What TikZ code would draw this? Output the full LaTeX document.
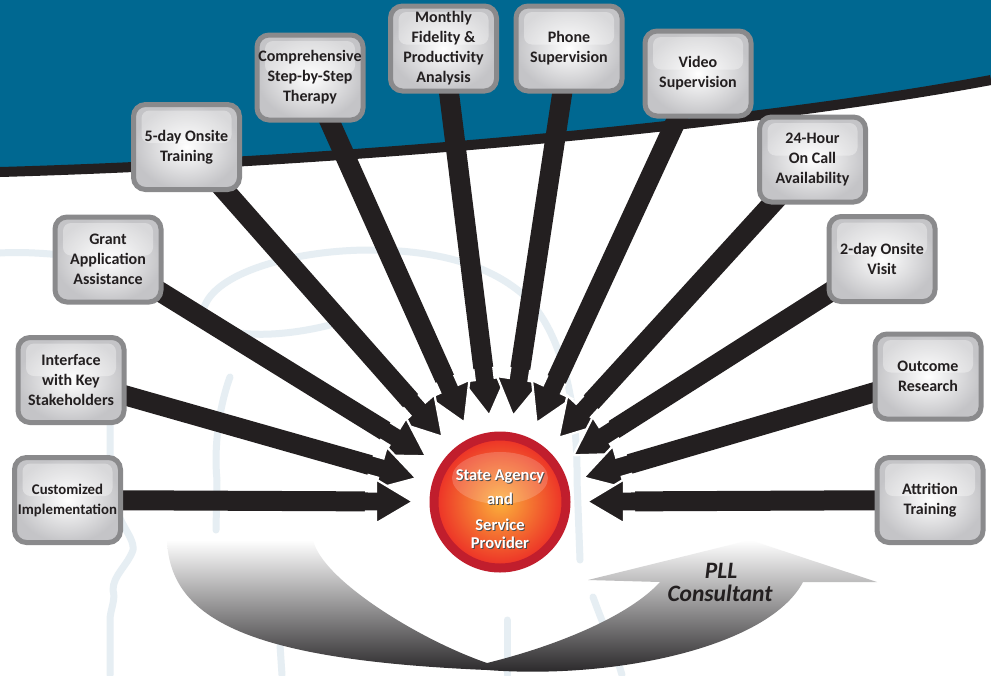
\documentclass[tikz,border=0pt]{standalone}
\usepackage{fontspec}
\setmainfont{Carlito}
\usetikzlibrary{calc}
\definecolor{bgblue}{RGB}{0,104,145}
\definecolor{ink}{RGB}{35,31,32}
\definecolor{swdark}{RGB}{30,28,30}
\definecolor{boxgray}{RGB}{138,138,140}
\definecolor{boxshade}{RGB}{196,196,199}
\definecolor{wm}{RGB}{230,238,243}
\definecolor{ringred}{RGB}{193,30,45}
\definecolor{orangeC}{RGB}{251,176,59}
\definecolor{redC}{RGB}{236,45,38}
\pgfdeclarelayer{back}
\pgfdeclarelayer{mid}
\pgfsetlayers{back,mid,main}
\tikzset{
  infobox/.style={rounded corners=12pt, minimum width=106pt, minimum height=85pt,
    draw=boxgray, line width=5pt, inner color=white, outer color=boxshade,
    align=center, text=ink, inner sep=0pt,
    font=\bfseries\fontsize{16}{20}\selectfont,
    path picture={\fill[white, opacity=0.35, rounded corners=8pt]
      ($(path picture bounding box.north west)+(8,6)$) rectangle
      ($(path picture bounding box.east)+(-8,-4)$);}},
  smallbox/.style={infobox, font=\bfseries\fontsize{14.8}{20}\selectfont},
  ctext/.style={font=\bfseries\fontsize{16.5}{18}\selectfont, anchor=base, inner sep=0pt},
  plltext/.style={font=\bfseries\itshape\fontsize{23.5}{25}\selectfont, text=ink, anchor=base, inner sep=0pt},
  wmline/.style={wm, line width=7pt, line cap=round, line join=round},
  arrowbody/.style={ink},
  arrowedge/.style={white, line width=2.2pt, line join=miter}
}
\begin{document}
\begin{tikzpicture}[x=1pt,y=-1pt]
\useasboundingbox (0,0) rectangle (991,675);
\coordinate (C) at (500,502);

% ---------- boxes ----------
\node[smallbox] (b1) at (67.5,500) {Customized\\Implementation};
\node[infobox] (b2) at (71,380) {Interface\\with Key\\Stakeholders};
\node[infobox] (b3) at (108,259.5) {Grant\\Application\\Assistance};
\node[infobox] (b4) at (186.5,147) {5-day Onsite\\Training};
\node[infobox] (b5) at (310,77.5) {Comprehensive\\Step-by-Step\\Therapy};
\node[infobox] (b6) at (443.5,48.5) {Monthly\\Fidelity \&\\Productivity\\Analysis};
\node[infobox] (b7) at (569,48.5) {Phone\\Supervision};
\node[infobox] (b8) at (698,73.5) {Video\\Supervision};
\node[infobox] (b9) at (812.5,159.5) {24-Hour\\On Call\\Availability};
\node[infobox] (b10) at (882,259) {2-day Onsite\\Visit};
\node[infobox] (b11) at (928,376.5) {Outcome\\Research};
\node[infobox] (b12) at (930,500) {Attrition\\Training};

% ---------- background ----------
\begin{pgfonlayer}{back}
\fill[white] (0,0) rectangle (991,675);
% watermark
\draw[wmline] (0,253) .. controls (50,250) and (100,262) .. (160,262);
\draw[wmline] (330,325) .. controls (250,345) and (190,330) .. (205,305)
   .. controls (220,270) and (300,250) .. (370,250)
   .. controls (430,250) and (480,262) .. (515,288)
   .. controls (560,320) and (578,400) .. (577,480) -- (580,560);
\draw[wmline] (110,413) -- (110,480) .. controls (112,520) and (135,535) .. (133,550)
   .. controls (128,565) and (113,575) .. (113,590) .. controls (116,600) and (110,610) .. (110,620) -- (110,675);
\draw[wmline] (230,377) .. controls (218,410) and (214,450) .. (217,480) -- (216,530);
\draw[wmline] (593,597) .. controls (605,630) and (615,650) .. (622,675);
\draw[wmline] (507,620) -- (507,675);
\draw[wmline] (280,645) -- (282,675);
% blue top
\fill[bgblue] (0,0) -- (991,0) -- (991,80) .. controls (750,125) and (350,162) .. (0,172) -- cycle;
\draw[ink, line width=10pt] (0,172) .. controls (350,162) and (750,125) .. (991,80);
% consultant swoosh
\shade[top color=white, bottom color=swdark]
  (167,540) .. controls (170,620) and (250,660) .. (487,670)
  .. controls (620,680) and (770,645) .. (803,582)
  -- (877,582) -- (750,540) -- (588,580) -- (660,582)
  .. controls (630,615) and (560,645) .. (487,663)
  .. controls (420,640) and (322,580) .. (313,540) -- cycle;
\end{pgfonlayer}

% ---------- arrows ----------
\begin{pgfonlayer}{mid}
\foreach \b in {b6,b7,b5,b8,b4,b9,b3,b10,b2,b11,b1,b12}{
  \coordinate (T) at ($(C)!87pt!(\b)$);
  \coordinate (H) at ($(T)!37pt!(\b)$);
  \coordinate (K) at ($(T)!48pt!(\b)$);
  \fill[arrowbody] ($(\b)!10pt!90:(T)$) -- ($(H)!10pt!90:(T)$) -- ($(H)!22pt!90:(T)$)
     -- (T) -- ($(H)!22pt!-90:(T)$) -- ($(H)!10pt!-90:(T)$) -- ($(\b)!10pt!-90:(T)$) -- cycle;
  \draw[arrowedge] ($(K)!10pt!90:(T)$) -- ($(H)!10pt!90:(T)$) -- ($(H)!22pt!90:(T)$)
     -- (T) -- ($(H)!22pt!-90:(T)$) -- ($(H)!10pt!-90:(T)$) -- ($(K)!10pt!-90:(T)$);
}
\end{pgfonlayer}

% ---------- centre circle ----------
\shade[inner color=orangeC, outer color=redC] (C) circle (66);
\fill[white, opacity=0.18] (500,478) ellipse (48 and 26);
\draw[ringred, line width=9pt] (C) circle (66);
\node[ctext, text=black!70] (s1s) at (501,481.2) {State Agency};
\node[ctext, text=white] (s1) at (500,480) {State Agency};
\node[ctext, text=black!70] (s2s) at (501,505.2) {and};
\node[ctext, text=white] (s2) at (500,504) {and};
\node[ctext, text=black!70] (s3s) at (501,531.2) {Service};
\node[ctext, text=white] (s3) at (500,530) {Service};
\node[ctext, text=black!70] (s4s) at (501,549.2) {Provider};
\node[ctext, text=white] (s4) at (500,548) {Provider};

% ---------- consultant label ----------
\node[plltext] (pll) at (721,578) {PLL};
\node[plltext] (cons) at (720,601) {Consultant};
\end{tikzpicture}
\end{document}
